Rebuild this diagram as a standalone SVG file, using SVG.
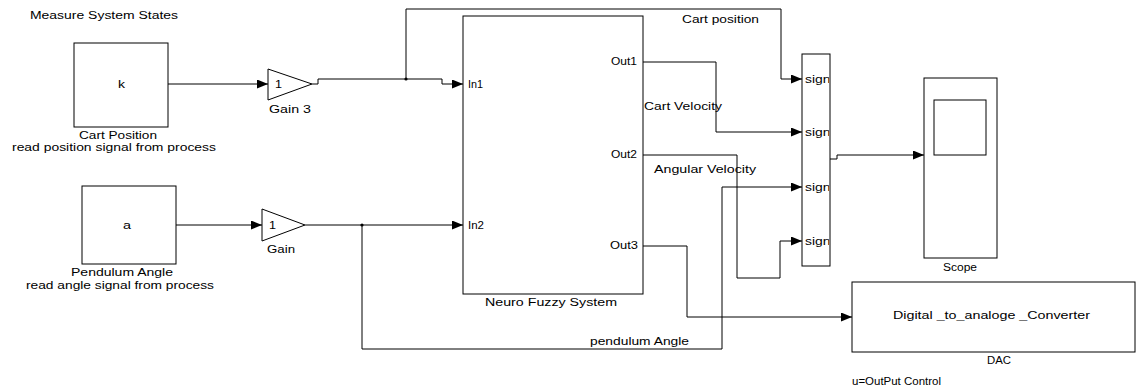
<svg xmlns="http://www.w3.org/2000/svg" width="1137" height="390" viewBox="0 0 1137 390">
<style>
text{font-family:"Liberation Sans",Arial,sans-serif;font-size:10px;fill:#000}
.blk{fill:#fff;stroke:#000;stroke-width:1}
.ln{fill:none;stroke:#000;stroke-width:1}
</style>
<defs>
<marker id="ah" markerUnits="userSpaceOnUse" markerWidth="12" markerHeight="10" refX="11" refY="4.5" orient="auto">
<path d="M0,0 L11,4.5 L0,9 Z" fill="#000"/>
</marker>
<clipPath id="muxclip"><rect x="802" y="54" width="27" height="212"/></clipPath>
</defs>
<text x="30" y="19" textLength="148" lengthAdjust="spacingAndGlyphs">Measure System States</text>
<g id="connectors">
<path class="ln" d="M168,84 H268" marker-end="url(#ah)"/>
<path class="ln" d="M312,84 H318 V79 H442 V84 H463" marker-end="url(#ah)"/>
<path class="ln" d="M406,79 V9 H781 V79 H802" marker-end="url(#ah)"/>
<circle cx="406" cy="79" r="1.6" fill="#000"/>
<path class="ln" d="M176,225 H262" marker-end="url(#ah)"/>
<path class="ln" d="M305,225 H463" marker-end="url(#ah)"/>
<path class="ln" d="M362,225 V349 H722 V187 H802" marker-end="url(#ah)"/>
<circle cx="362" cy="225" r="1.6" fill="#000"/>
<path class="ln" d="M643,62 H716 V132 H802" marker-end="url(#ah)"/>
<path class="ln" d="M643,155 H737 V278 H780 V241 H802" marker-end="url(#ah)"/>
<path class="ln" d="M643,246 H687 V317 H852" marker-end="url(#ah)"/>
<path class="ln" d="M830,159 H837 V155 H924" marker-end="url(#ah)"/>
<text x="682" y="23" textLength="77" lengthAdjust="spacingAndGlyphs">Cart position</text>
<text x="644" y="110" textLength="78" lengthAdjust="spacingAndGlyphs">Cart Velocity</text>
<text x="654" y="173" textLength="102" lengthAdjust="spacingAndGlyphs">Angular Velocity</text>
<text x="590" y="345" textLength="99" lengthAdjust="spacingAndGlyphs">pendulum Angle</text>
</g>
<g id="cart-position">
<rect class="blk" x="74" y="43" width="94" height="84"/>
<text x="118" y="88" textLength="7" lengthAdjust="spacingAndGlyphs">k</text>
<text x="79" y="139" textLength="78" lengthAdjust="spacingAndGlyphs">Cart Position</text>
<text x="12" y="151" textLength="204" lengthAdjust="spacingAndGlyphs">read position signal from process</text>
</g>
<g id="gain3">
<path class="blk" d="M268,69 L312,84 L268,100 Z"/>
<text x="275" y="88" textLength="7" lengthAdjust="spacingAndGlyphs">1</text>
<text x="269" y="113" textLength="42" lengthAdjust="spacingAndGlyphs">Gain 3</text>
</g>
<g id="pendulum-angle">
<rect class="blk" x="82" y="186" width="94" height="78"/>
<text x="123" y="229" textLength="8" lengthAdjust="spacingAndGlyphs">a</text>
<text x="71" y="276" textLength="102" lengthAdjust="spacingAndGlyphs">Pendulum Angle</text>
<text x="26" y="289" textLength="188" lengthAdjust="spacingAndGlyphs">read angle signal from process</text>
</g>
<g id="gain">
<path class="blk" d="M262,209 L305,225 L262,241 Z"/>
<text x="269" y="229" textLength="7" lengthAdjust="spacingAndGlyphs">1</text>
<text x="267" y="253" textLength="28" lengthAdjust="spacingAndGlyphs">Gain</text>
</g>
<g id="neuro-fuzzy-system">
<rect class="blk" x="463" y="16" width="180" height="278"/>
<text x="468" y="88" textLength="15" lengthAdjust="spacingAndGlyphs">In1</text>
<text x="468" y="229" textLength="16" lengthAdjust="spacingAndGlyphs">In2</text>
<text x="611" y="65" textLength="26" lengthAdjust="spacingAndGlyphs">Out1</text>
<text x="611" y="158" textLength="26" lengthAdjust="spacingAndGlyphs">Out2</text>
<text x="610" y="249" textLength="28" lengthAdjust="spacingAndGlyphs">Out3</text>
<text x="485" y="306" textLength="132" lengthAdjust="spacingAndGlyphs">Neuro Fuzzy System</text>
</g>
<g id="mux">
<rect class="blk" x="802" y="54" width="28" height="212"/>
<g clip-path="url(#muxclip)">
<text x="805" y="83" textLength="44" lengthAdjust="spacingAndGlyphs">signal1</text>
<text x="805" y="136" textLength="44" lengthAdjust="spacingAndGlyphs">signal2</text>
<text x="805" y="191" textLength="44" lengthAdjust="spacingAndGlyphs">signal3</text>
<text x="805" y="245" textLength="44" lengthAdjust="spacingAndGlyphs">signal4</text>
</g>
</g>
<g id="scope">
<rect class="blk" x="924" y="78" width="73" height="180"/>
<rect class="blk" x="934" y="100" width="52" height="55"/>
<text x="943" y="271" textLength="34" lengthAdjust="spacingAndGlyphs">Scope</text>
</g>
<g id="dac">
<rect class="blk" x="852" y="282" width="283" height="70"/>
<text x="893" y="319" textLength="197" lengthAdjust="spacingAndGlyphs">Digital _to_analoge _Converter</text>
<text x="987" y="364" textLength="24" lengthAdjust="spacingAndGlyphs">DAC</text>
<text x="852" y="385" textLength="89" lengthAdjust="spacingAndGlyphs">u=OutPut Control</text>
</g>
</svg>
